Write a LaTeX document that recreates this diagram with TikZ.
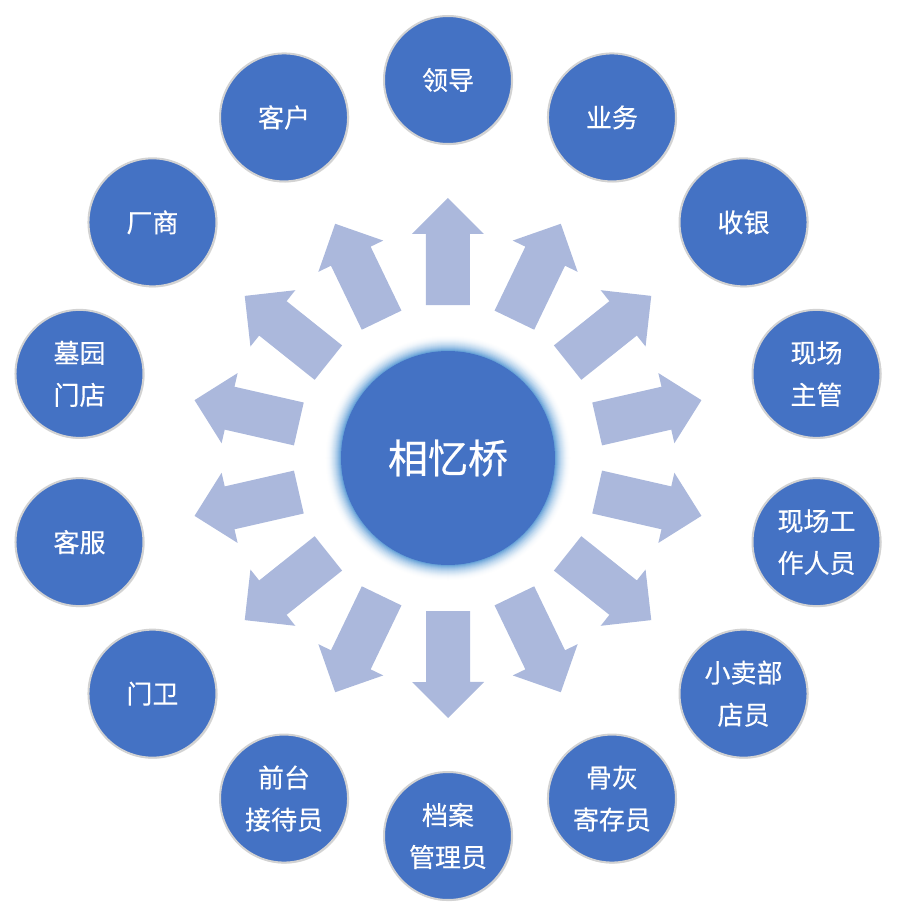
\documentclass[tikz,border=0pt]{standalone}
\usepackage{fontspec}
\newfontfamily\cjk[FakeBold=0.4]{Noto Sans CJK SC}
\usepackage{tikz}
\usetikzlibrary{shadows}
\usepackage{xcolor}
\definecolor{nodeblue}{HTML}{4472C4}
\definecolor{arrowblue}{HTML}{ABB8DC}
\definecolor{glowblue}{HTML}{5B9BD5}

\begin{document}
\begin{tikzpicture}[x=0.75pt,y=0.75pt,
    role/.style={circle,fill=nodeblue,draw=gray!35,line width=1.5pt,minimum size=96pt,inner sep=0pt,
      text=white,align=center,font=\cjk\fontsize{19.5}{31.5}\selectfont,
      drop shadow={opacity=0.25,shadow xshift=0.8pt,shadow yshift=-0.8pt}},
    hub/.style={circle,fill=nodeblue,minimum size=160.5pt,inner sep=0pt,text=white,font=\cjk\fontsize{30}{36}\selectfont},
    ray/.style={fill=arrowblue}]
  \useasboundingbox (-448,-460) rectangle (457,458);

  \foreach \a in {0,...,13}
    \fill[ray,rotate=90-\a*25.714] (153,-22) -- (224,-22) -- (224,-36) -- (260,0) -- (224,36) -- (224,22) -- (153,22) -- cycle;

  \foreach \k in {16,...,1}{
    \pgfmathtruncatemacro\m{92*((17-\k)/16)^2}
    \fill[glowblue!\m!white] (0,0) circle (107+\k);
  }
  \node[hub] (hub) at (0,0) {相忆桥};

  \node[role] (leader)  at (90:378)      {领导};
  \node[role] (sales)   at (64.29:378)   {业务};
  \node[role] (cashier) at (38.57:378)   {收银};
  \node[role] (sitemgr) at (12.86:378)   {现场\\主管};
  \node[role] (staff)   at (-12.86:378)  {现场工\\作人员};
  \node[role] (shop)    at (-38.57:378)  {小卖部\\店员};
  \node[role] (ashes)   at (-64.29:378)  {骨灰\\寄存员};
  \node[role] (archive) at (-90:378)     {档案\\管理员};
  \node[role] (desk)    at (-115.71:378) {前台\\接待员};
  \node[role] (guard)   at (-141.43:378) {门卫};
  \node[role] (service) at (-167.14:378) {客服};
  \node[role] (store)   at (167.14:378)  {墓园\\门店};
  \node[role] (vendor)  at (141.43:378)  {厂商};
  \node[role] (client)  at (115.71:378)  {客户};
\end{tikzpicture}
\end{document}
